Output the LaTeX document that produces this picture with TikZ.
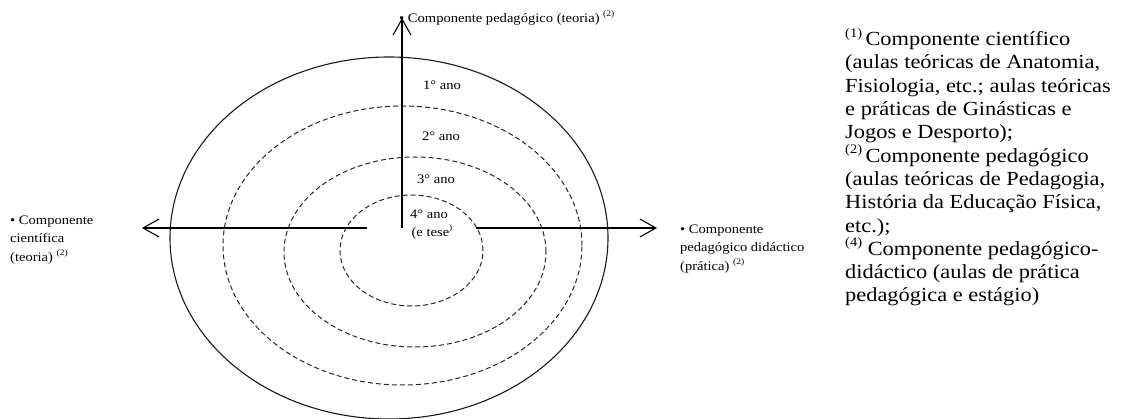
\documentclass[tikz,border=0pt]{standalone}
\usepackage{fontspec}
\setmainfont{Liberation Serif}
\newfontfamily\labfont[FakeStretch=1.12]{Liberation Serif}
\usetikzlibrary{arrows.meta}
\newcommand\supsmall[1]{\raisebox{0.42em}{\fontsize{0.65em}{1em}\selectfont #1}}
\begin{document}
\begin{tikzpicture}[x=1pt,y=-1pt,
  axisline/.style={line width=1.1pt, black},
  tipped/.style={axisline, -{Straight Barb[length=16pt,width=18pt,line width=1.1pt]}},
  ring/.style={line width=1pt, dash pattern=on 5pt off 3pt, black!85},
  outer/.style={line width=1.1pt, black!90},
  small/.style={font=\labfont\fontsize{13}{18.5}\selectfont, inner sep=0pt},
  legend/.style={font=\labfont\fontsize{20}{23.3}\selectfont, inner sep=0pt, align=left, anchor=north west}]
\useasboundingbox (0,0) rectangle (1128,419);
% rings
\draw[outer] (389,238) ellipse [x radius=219pt, y radius=181pt];
\draw[ring] (402.5,245.5) ellipse [x radius=179.5pt, y radius=139.5pt];
\draw[ring] (415,252) ellipse [x radius=131pt, y radius=95pt];
\draw[ring] (411.5,250.5) ellipse [x radius=71.5pt, y radius=55.5pt];
% axes
\coordinate (o) at (402,228);
\coordinate (ntip) at (402,18);
\coordinate (lstart) at (367,228);
\coordinate (ltip) at (142,228);
\coordinate (rstart) at (476,228);
\coordinate (rtip) at (657,228);
\draw[tipped] (o) -- (ntip);
\draw[tipped] (lstart) -- (ltip);
\draw[tipped] (rstart) -- (rtip);
% year labels
\node[small] (y1) at (442,85) {1° ano};
\node[small] (y2) at (441,136) {2° ano};
\node[small] (y3) at (436,179) {3° ano};
\node[small] (y4) at (429,214) {4° ano};
\node[small] (y4b) at (432,232) {(e tese\supsmall{)}};
% axis labels
\node[small, anchor=west] (top) at (399,18) {• Componente pedagógico (teoria) \supsmall{(2)}};
\node[small, anchor=west, align=left] (left) at (10,240) {• Componente\\científica\\(teoria) \supsmall{(2)}};
\node[small, anchor=west, align=left] (right) at (680,249) {• Componente\\pedagógico didáctico\\(prática) \supsmall{(2)}};
% legend
\node[legend] (leg) at (845,28) {\supsmall{(1)}\,Componente científico\\
(aulas teóricas de Anatomia,\\
Fisiologia, etc.; aulas teóricas\\
e práticas de Ginásticas e\\
Jogos e Desporto);\\
\supsmall{(2)}\,Componente pedagógico\\
(aulas teóricas de Pedagogia,\\
História da Educação Física,\\
etc.);\\
\supsmall{(4)} Componente pedagógico-\\
didáctico (aulas de prática\\
pedagógica e estágio)};
\end{tikzpicture}
\end{document}
